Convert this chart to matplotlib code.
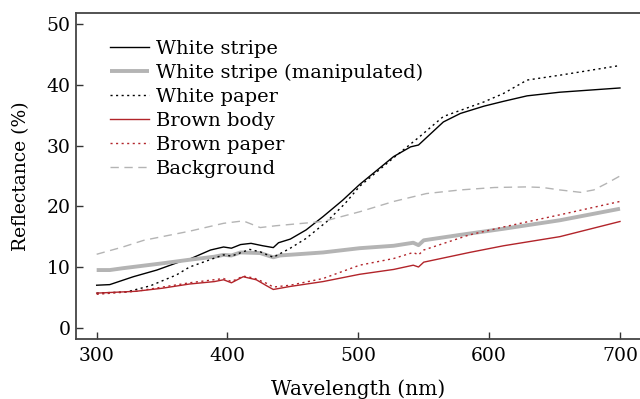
import matplotlib
matplotlib.use("Agg")
import matplotlib.pyplot as plt

# White stripe (solid black)
ws_x = [300, 310, 328, 346, 364, 371, 387, 397, 403, 410, 418, 427, 435, 439, 448, 460, 473, 488, 501, 527, 540, 546, 565, 578, 596, 611, 629, 654, 700]
ws_y = [7.0, 7.1, 8.4, 9.5, 10.9, 11.3, 12.8, 13.3, 13.1, 13.7, 13.9, 13.5, 13.2, 14.0, 14.6, 16.1, 18.3, 21.0, 23.6, 28.2, 29.8, 30.1, 33.9, 35.3, 36.5, 37.3, 38.2, 38.8, 39.5]

# White stripe (manipulated) (thick grey)
wsm_x = [300, 310, 320, 350, 371, 390, 397, 403, 410, 425, 435, 440, 473, 501, 527, 542, 546, 550, 578, 611, 654, 700]
wsm_y = [9.5, 9.5, 9.8, 10.6, 11.2, 11.7, 12.0, 11.9, 12.4, 12.3, 11.6, 11.9, 12.4, 13.1, 13.5, 14.0, 13.6, 14.4, 15.3, 16.3, 17.7, 19.6]

# White paper (dotted black)
wp_x = [300, 323, 341, 361, 371, 397, 403, 417, 425, 435, 448, 460, 476, 490, 501, 527, 547, 565, 596, 611, 629, 654, 700]
wp_y = [5.7, 5.9, 6.9, 8.7, 10.0, 12.0, 11.8, 12.9, 12.5, 11.6, 13.1, 14.7, 17.5, 20.5, 23.3, 28.0, 31.5, 34.8, 37.2, 38.6, 40.8, 41.6, 43.2]

# Brown body (solid red)
bb_x = [300, 330, 350, 371, 390, 397, 403, 412, 422, 430, 435, 448, 473, 501, 527, 542, 546, 550, 585, 611, 654, 700]
bb_y = [5.7, 6.0, 6.5, 7.2, 7.6, 7.9, 7.4, 8.4, 7.9, 6.9, 6.3, 6.8, 7.6, 8.8, 9.6, 10.3, 10.0, 10.8, 12.4, 13.5, 15.0, 17.5]

# Brown paper (dotted red)
bp_x = [300, 330, 371, 397, 403, 412, 420, 430, 435, 448, 473, 501, 527, 542, 546, 550, 585, 611, 654, 700]
bp_y = [5.5, 6.0, 7.4, 8.1, 7.6, 8.5, 8.2, 7.3, 6.7, 7.0, 8.1, 10.3, 11.4, 12.4, 12.0, 12.8, 15.3, 16.6, 18.6, 20.8]

# Background (dashed grey)
bg_x = [300, 320, 336, 371, 397, 412, 425, 437, 473, 501, 527, 552, 578, 604, 629, 641, 654, 670, 680, 690, 700]
bg_y = [12.1, 13.3, 14.4, 15.9, 17.2, 17.6, 16.5, 16.8, 17.5, 19.1, 20.8, 22.1, 22.7, 23.1, 23.2, 23.1, 22.7, 22.3, 22.7, 23.8, 25.0]

x_ticks = [300, 400, 500, 600, 700]
y_ticks = [0, 10, 20, 30, 40, 50]

plt.rcParams['font.family'] = ['DejaVu Serif']
FS_TICK = 13.5
FS_LEG = 14
FS_XLAB = 14.5
FS_YLAB = 13.5

fig = plt.figure(figsize=(6.4, 3.99), dpi=100)
ax = fig.add_axes([76/640, 60/399, 1.0 - 76/640, (339-13)/399])

red = '#b2242a'
grey = '#b4b4b4'
ax.plot(ws_x, ws_y, color='black', lw=1.0, label='White stripe')
ax.plot(wsm_x, wsm_y, color=grey, lw=2.8, label='White stripe (manipulated)', solid_capstyle='butt')
ax.plot(wp_x, wp_y, color='black', lw=1.0, ls=(0, (1.5, 2.5)), label='White paper')
ax.plot(bb_x, bb_y, color=red, lw=1.0, label='Brown body')
ax.plot(bp_x, bp_y, color=red, lw=1.0, ls=(0, (1.5, 2.5)), label='Brown paper')
ax.plot(bg_x, bg_y, color=grey, lw=1.0, ls=(0, (6, 4)), label='Background')

ax.set_xlim(284.2, 715.3)
ax.set_ylim(-1.86, 51.85)
ax.set_xticks(x_ticks)
ax.set_yticks(y_ticks)
ax.tick_params(direction='in', length=5, width=1.0, color='#333333', labelsize=FS_TICK, pad=4)
ax.tick_params(axis='x', pad=6)
for s in ['left', 'bottom', 'top']:
    ax.spines[s].set_color('#444444')
    ax.spines[s].set_linewidth(1.3)
ax.spines['right'].set_visible(False)

ax.set_xlabel('Wavelength (nm)', fontsize=FS_XLAB, labelpad=10)
ax.set_ylabel('Reflectance (%)', fontsize=FS_YLAB, labelpad=12)

leg = ax.legend(loc='upper left', bbox_to_anchor=(110/640, (399-39.5)/399), bbox_transform=fig.transFigure,
                frameon=False, fontsize=FS_LEG, handlelength=2.0, handletextpad=0.36,
                labelspacing=0.31, borderpad=0, borderaxespad=0)

fig.savefig('out.png', dpi=100)
